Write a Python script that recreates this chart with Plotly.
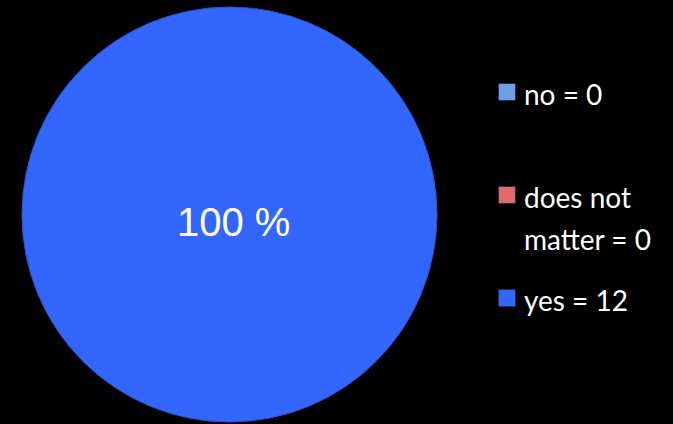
import plotly.graph_objects as go

# Survey answers
labels = ["no", "does not<br>matter", "yes"]
values = [0, 0, 12]
colors = ["#6f9fe3", "#e46a6a", "#3366ff"]

# Legend row positions (pixels from top)
legend_rows_y = [92, 195, 298]

W, H = 673, 424
total = sum(values)
pct_text = [f"{v / total * 100:.0f} %" for v in values]

fig = go.Figure(
    go.Pie(
        labels=labels,
        values=values,
        marker=dict(colors=colors, line=dict(color="#2a52c8", width=1)),
        textinfo="none",
        sort=False,
        direction="clockwise",
        showlegend=False,
        hoverinfo="label+value",
        domain=dict(x=[22 / W, 437 / W], y=[1 / H, 418 / H]),
    )
)

shapes = []
annotations = []

# Percentage label of the dominant slice
top = max(range(len(values)), key=lambda i: values[i])
annotations.append(
    dict(
        xref="paper", yref="paper", x=233 / W, y=1 - 222 / H,
        xanchor="center", yanchor="middle", showarrow=False,
        text=pct_text[top],
        font=dict(family="Arial, 'Liberation Sans', Helvetica, sans-serif",
                  size=40, color="white"),
    )
)

sq = 17
line_gap = 42
for lab, val, col, yc in zip(labels, values, colors, legend_rows_y):
    shapes.append(
        dict(
            type="rect", xref="paper", yref="paper",
            x0=498.5 / W, x1=(498.5 + sq) / W,
            y0=1 - (yc + sq / 2) / H, y1=1 - (yc - sq / 2) / H,
            fillcolor=col, line=dict(color="#1a2a55", width=1),
        )
    )
    lines = f"{lab} = {val}".split("<br>")
    for i, ln in enumerate(lines):
        annotations.append(
            dict(
                xref="paper", yref="paper",
                x=522 / W, y=1 - (yc + 2 + i * line_gap) / H,
                xanchor="left", yanchor="middle",
                text=ln, showarrow=False,
                font=dict(family="Lato, 'Open Sans', sans-serif", size=28, color="white"),
            )
        )

fig.update_layout(
    width=W, height=H,
    margin=dict(l=0, r=0, t=0, b=0),
    paper_bgcolor="black",
    plot_bgcolor="black",
    shapes=shapes,
    annotations=annotations,
)

fig.write_html("out.html")
